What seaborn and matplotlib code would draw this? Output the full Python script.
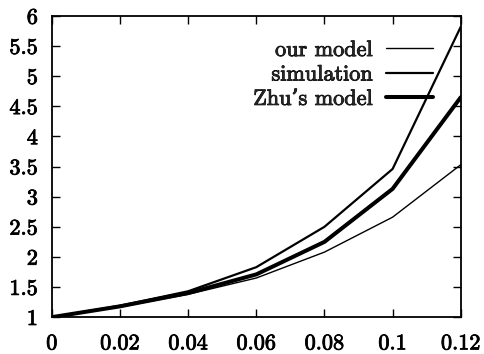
import pandas as pd
import seaborn as sns
import matplotlib.pyplot as plt
import matplotlib.patheffects as pe

x_vals = [0, 0.02, 0.04, 0.06, 0.08, 0.1, 0.12]
our_model = [1.0, 1.17, 1.38, 1.65, 2.08, 2.66, 3.53]
simulation = [1.0, 1.19, 1.43, 1.83, 2.50, 3.46, 5.82]
zhu_model = [1.0, 1.18, 1.40, 1.71, 2.25, 3.13, 4.65]

series_names = ["our model", "simulation", "Zhu\u2019s model"]
series_widths = [1.0, 1.6, 2.9]

sns.set_style("ticks")
plt.rcParams['font.family'] = ['cmr10', 'DejaVu Serif']
plt.rcParams['axes.formatter.use_mathtext'] = True

fig, ax = plt.subplots(figsize=(4.84, 3.54), dpi=100)
fig.subplots_adjust(left=0.107, right=0.952, top=0.955, bottom=0.104)

for name, vals, lw in zip(series_names, [our_model, simulation, zhu_model], series_widths):
    df = pd.DataFrame({"x": x_vals, "y": vals})
    sns.lineplot(data=df, x="x", y="y", ax=ax, color="black", linewidth=lw, label=name)

ax.set_xlim(0, 0.12)
ax.set_ylim(1, 6)
ax.set_xticks(x_vals)
ax.set_xticklabels(["0", "0.02", "0.04", "0.06", "0.08", "0.1", "0.12"])
ax.set_yticks([1, 1.5, 2, 2.5, 3, 3.5, 4, 4.5, 5, 5.5, 6])
ax.set_yticklabels(["1", "1.5", "2", "2.5", "3", "3.5", "4", "4.5", "5", "5.5", "6"])
ax.set_xlabel("")
ax.set_ylabel("")
ax.tick_params(direction="in", top=True, right=True, length=6, width=1,
               labelsize=16, color="black", labelcolor="black")
ax.tick_params(axis="x", pad=12)
ax.tick_params(axis="y", pad=10)
for s in ax.spines.values():
    s.set_linewidth(1.3)
    s.set_color("black")

bold = [pe.withStroke(linewidth=0.6, foreground="black")]
for lab in ax.get_xticklabels() + ax.get_yticklabels():
    lab.set_path_effects(bold)

leg = ax.legend(loc="upper right", bbox_to_anchor=(0.98, 0.985), frameon=False,
                markerfirst=False, handlelength=2.1, handletextpad=0.6,
                labelspacing=0.22, fontsize=16)
for t in leg.get_texts():
    t.set_path_effects(bold)

fig.savefig("out.png", dpi=100)
